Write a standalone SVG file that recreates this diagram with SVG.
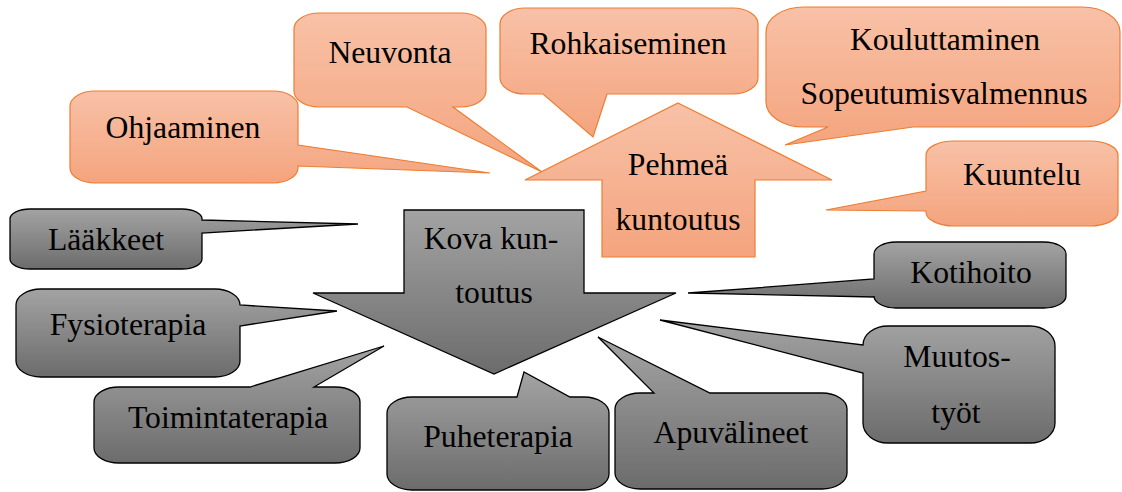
<svg xmlns="http://www.w3.org/2000/svg" width="1122" height="492" viewBox="0 0 1122 492">
<defs>
<linearGradient id="gOr" x1="0" y1="0" x2="0" y2="1">
<stop offset="0" stop-color="#F8C1A7"/>
<stop offset="1" stop-color="#F4A47E"/>
</linearGradient>
<linearGradient id="gGr" x1="0" y1="0" x2="0" y2="1">
<stop offset="0" stop-color="#A3A3A3"/>
<stop offset="1" stop-color="#6C6C6C"/>
</linearGradient>
</defs>
<style>
.or{fill:url(#gOr);stroke:#ED7D31;stroke-width:1.2}
.gr{fill:url(#gGr);stroke:#000;stroke-width:1.3}
</style>
<rect width="1122" height="492" fill="#fff"/>
<g id="connectors"></g>

<g id="ohjaaminen">
<path class="or" d="M95,91 H273 A25 15 0 0 1 298,106 V145 L490,173 L298,166 V168 A25 15 0 0 1 273,183 H95 A25 15 0 0 1 70,168 V106 A25 15 0 0 1 95,91 Z"/>
<text font-family="Times New Roman" font-size="31.7" text-anchor="middle" x="183" y="138">Ohjaaminen</text>
</g>
<g id="neuvonta">
<path class="or" d="M319,13 H461 A25 16 0 0 1 486,29 V91 A25 16 0 0 1 461,107 H453 L542,172 L407,107 H319 A25 16 0 0 1 294,91 V29 A25 16 0 0 1 319,13 Z"/>
<text font-family="Times New Roman" font-size="31.7" text-anchor="middle" x="390" y="63">Neuvonta</text>
</g>
<g id="rohkaiseminen">
<path class="or" d="M525,8 H733 A25 16 0 0 1 758,24 V78 A25 16 0 0 1 733,94 H607 L593,137 L543,94 H525 A25 16 0 0 1 500,78 V24 A25 16 0 0 1 525,8 Z"/>
<text font-family="Times New Roman" font-size="31.7" text-anchor="middle" x="628" y="54">Rohkaiseminen</text>
</g>
<g id="kouluttaminen">
<path class="or" d="M804,7 H1082 A38 25 0 0 1 1120,32 V102 A38 25 0 0 1 1082,127 H913 L785,145 L828,127 H804 A38 25 0 0 1 766,102 V32 A38 25 0 0 1 804,7 Z"/>
<text font-family="Times New Roman" font-size="31.7" text-anchor="middle" x="945" y="50">Kouluttaminen</text>
<text font-family="Times New Roman" font-size="31.7" text-anchor="middle" x="944" y="104">Sopeutumisvalmennus</text>
</g>
<g id="kuuntelu">
<path class="or" d="M954,141 H1090 A28 14 0 0 1 1118,155 V212 A28 14 0 0 1 1090,226 H954 A28 14 0 0 1 926,212 V211 L826,210 L926,191 V155 A28 14 0 0 1 954,141 Z"/>
<text font-family="Times New Roman" font-size="31.7" text-anchor="middle" x="1022" y="185">Kuuntelu</text>
</g>

<g id="laakkeet">
<path class="gr" d="M30,209 H182 A20 10 0 0 1 202,219 V220 L358,224 L202,233 V259 A20 10 0 0 1 182,269 H30 A20 10 0 0 1 10,259 V219 A20 10 0 0 1 30,209 Z"/>
<text font-family="Times New Roman" font-size="31.7" text-anchor="middle" x="106" y="250">Lääkkeet</text>
</g>
<g id="fysioterapia">
<path class="gr" d="M41,289 H215 A25 16 0 0 1 240,305 L337,311 L240,326 V361 A25 16 0 0 1 215,377 H41 A25 16 0 0 1 16,361 V305 A25 16 0 0 1 41,289 Z"/>
<text font-family="Times New Roman" font-size="31.7" text-anchor="middle" x="128" y="335">Fysioterapia</text>
</g>
<g id="toimintaterapia">
<path class="gr" d="M119,387 H250 L384,346 L314,387 H335 A25 15 0 0 1 360,402 V448 A25 15 0 0 1 335,463 H119 A25 15 0 0 1 94,448 V402 A25 15 0 0 1 119,387 Z"/>
<text font-family="Times New Roman" font-size="31.7" text-anchor="middle" x="228" y="428">Toimintaterapia</text>
</g>
<g id="puheterapia">
<path class="gr" d="M412,397 H517 L524,372 L570,397 H584 A25 16 0 0 1 609,413 V474 A25 16 0 0 1 584,490 H412 A25 16 0 0 1 387,474 V413 A25 16 0 0 1 412,397 Z"/>
<text font-family="Times New Roman" font-size="31.7" text-anchor="middle" x="498" y="447">Puheterapia</text>
</g>
<g id="apuvalineet">
<path class="gr" d="M640,393 H654 L598,337 L710,393 H822 A25 16 0 0 1 847,409 V473 A25 16 0 0 1 822,489 H640 A25 16 0 0 1 615,473 V409 A25 16 0 0 1 640,393 Z"/>
<text font-family="Times New Roman" font-size="31.7" text-anchor="middle" x="731" y="443">Apuvälineet</text>
</g>
<g id="kotihoito">
<path class="gr" d="M896,242 H1044 A22 12 0 0 1 1066,254 V296 A22 12 0 0 1 1044,308 H896 A22 12 0 0 1 874,296 V297 L688,293 L874,279 V254 A22 12 0 0 1 896,242 Z"/>
<text font-family="Times New Roman" font-size="31.7" text-anchor="middle" x="971" y="283">Kotihoito</text>
</g>
<g id="muutostyot">
<path class="gr" d="M888,326 H1030 A25 20 0 0 1 1055,346 V423 A25 20 0 0 1 1030,443 H888 A25 20 0 0 1 863,423 V373 L660,320 L863,345 A25 19 0 0 1 888,326 Z"/>
<text font-family="Times New Roman" font-size="31.7" text-anchor="middle" x="957" y="367">Muutos-</text>
<text font-family="Times New Roman" font-size="31.7" text-anchor="middle" x="956" y="423">työt</text>
</g>

<g id="kova-kuntoutus">
<path class="gr" d="M404,210 H584 V293 H676 L494,374 L313,293 H404 Z"/>
<text font-family="Times New Roman" font-size="31.7" text-anchor="middle" x="491" y="249">Kova kun-</text>
<text font-family="Times New Roman" font-size="31.7" text-anchor="middle" x="494" y="303">toutus</text>
</g>
<g id="pehmea-kuntoutus">
<path class="or" d="M678,103 L832,180 H755 V257 H602 V180 H525 Z"/>
<text font-family="Times New Roman" font-size="31.7" text-anchor="middle" x="678" y="175">Pehmeä</text>
<text font-family="Times New Roman" font-size="31.7" text-anchor="middle" x="678" y="230">kuntoutus</text>
</g>
</svg>
